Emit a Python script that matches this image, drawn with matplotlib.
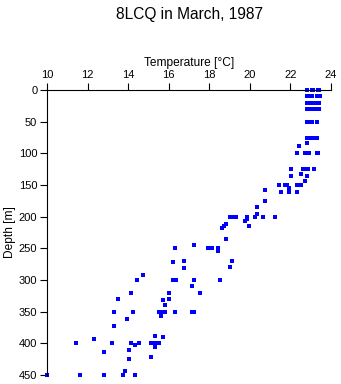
import matplotlib
matplotlib.use("Agg")
import matplotlib.pyplot as plt

plt.rcParams['font.family'] = ['Liberation Sans', 'DejaVu Sans']

title = "8LCQ in March, 1987"
x_label = "Temperature [°C]"
y_label = "Depth [m]"
x_ticks = [10, 12, 14, 16, 18, 20, 22, 24]
y_ticks = [0, 50, 100, 150, 200, 250, 300, 350, 400, 450]

# (depth, temperatures at that depth)
depth_rows = [0, 10, 20, 30, 50, 75, 84, 88, 100, 125, 132, 136, 143, 150, 154,
              158, 161, 176, 185, 196, 200, 204, 207, 212, 215, 218, 236, 245,
              250, 254, 270, 272, 280, 281, 292, 300, 310, 321, 330, 332, 340,
              350, 357, 362, 373, 389, 390, 393, 400, 403, 405, 411, 413, 422,
              425, 443, 450]
temp_rows = [
    [22.84, 23.06, 23.12, 23.34, 23.4],
    [22.84, 22.92, 23.0, 23.08, 23.3, 23.38, 23.46],
    [22.84, 22.92, 23.0, 23.08, 23.14, 23.34, 23.42],
    [22.84, 22.92, 23.0, 23.08, 23.16, 23.24, 23.32, 23.4],
    [22.84, 22.92, 23.0, 23.06, 23.32],
    [22.84, 22.92, 23.0, 23.08, 23.12, 23.32],
    [22.84],
    [22.43],
    [22.32, 22.72, 22.8, 22.88, 22.94, 23.32, 23.38],
    [22.04, 22.62, 22.7, 22.78, 22.86, 23.14],
    [22.53],
    [22.04, 22.83],
    [22.73],
    [21.45, 21.75, 21.85, 22.34, 22.44, 22.53],
    [21.94],
    [20.76],
    [21.55, 21.94, 22.34],
    [20.75],
    [20.35],
    [20.35],
    [19.04, 19.2, 19.33, 19.84, 20.24, 20.65, 21.25],
    [19.84],
    [19.75],
    [18.84],
    [18.74, 19.94],
    [18.64],
    [18.84],
    [17.25],
    [16.32, 17.95, 18.15, 18.44],
    [18.44],
    [16.74, 19.13],
    [16.23],
    [19.04],
    [16.74],
    [14.75],
    [14.42, 16.23, 16.34, 17.25, 18.54],
    [17.13],
    [14.12, 16.03, 17.56],
    [13.52, 16.03],
    [15.73],
    [15.83],
    [13.32, 14.22, 15.54, 15.68, 15.83, 16.32, 17.15, 17.25],
    [15.63],
    [13.93],
    [13.32],
    [15.34],
    [15.73],
    [12.33],
    [11.43, 13.22, 14.12, 14.52, 15.14, 15.34, 15.54],
    [14.34],
    [15.34],
    [14.03],
    [12.83],
    [15.14],
    [14.03],
    [13.83],
    [10.0, 11.63, 12.83, 13.73, 14.34],
]

temps = []
depths = []
for d, ts in zip(depth_rows, temp_rows):
    for t in ts:
        temps.append(t)
        depths.append(d)

fig = plt.figure(figsize=(3.41, 3.84), dpi=100)
ax = fig.add_axes([47/341, 1 - 375/384, 284/341, 285/384])

ax.plot(temps, depths, linestyle='none', marker='s', markersize=2.5,
        color='#0000ff', markeredgewidth=0, clip_on=False)

ax.set_xlim(10, 24)
ax.set_ylim(450, 0)
ax.xaxis.tick_top()
ax.xaxis.set_label_position('top')
ax.set_xticks(x_ticks)
ax.set_yticks(y_ticks)
ax.tick_params(direction='out', length=5, width=0.8, labelsize=8, pad=2)
for s in ['right', 'bottom']:
    ax.spines[s].set_visible(False)
for s in ['left', 'top']:
    ax.spines[s].set_linewidth(0.8)
ax.set_xlabel(x_label, fontsize=8.6, labelpad=3)
ax.set_ylabel(y_label, fontsize=8.6, labelpad=2)
fig.text(190/341, 1 - 14/384, title, ha='center', va='center', fontsize=11.2)

fig.savefig("out.png", dpi=100)
